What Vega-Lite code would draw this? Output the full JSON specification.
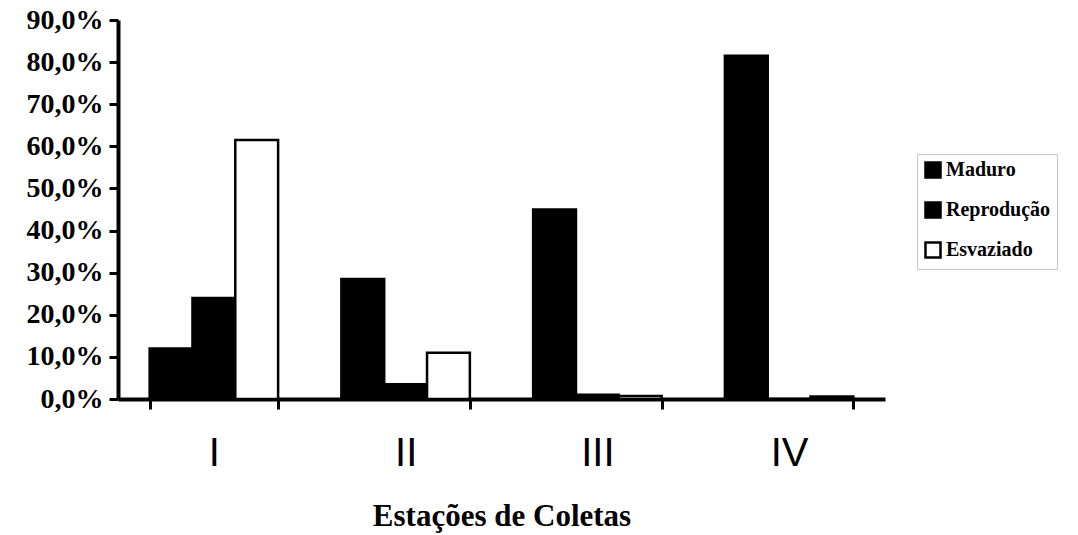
{
  "$schema": "https://vega.github.io/schema/vega-lite/v6.json",
  "width": 767,
  "height": 379,
  "autosize": {"type": "none"},
  "padding": {"left": 118, "top": 20, "right": 193, "bottom": 136},
  "background": "white",
  "config": {
    "locale": {"number": {"decimal": ",", "thousands": ".", "grouping": [3], "currency": ["R$", ""]}},
    "view": {"stroke": null}
  },
  "data": {
    "values": [
      {"estacao": "I", "serie": "Maduro", "valor": 0.12},
      {"estacao": "I", "serie": "Reprodução", "valor": 0.24},
      {"estacao": "I", "serie": "Esvaziado", "valor": 0.615},
      {"estacao": "II", "serie": "Maduro", "valor": 0.285},
      {"estacao": "II", "serie": "Reprodução", "valor": 0.035},
      {"estacao": "II", "serie": "Esvaziado", "valor": 0.11},
      {"estacao": "III", "serie": "Maduro", "valor": 0.45},
      {"estacao": "III", "serie": "Reprodução", "valor": 0.01},
      {"estacao": "III", "serie": "Esvaziado", "valor": 0.007},
      {"estacao": "IV", "serie": "Maduro", "valor": 0.815},
      {"estacao": "IV", "serie": "Reprodução", "valor": 0.0},
      {"estacao": "IV", "serie": "Esvaziado", "valor": 0.006}
    ]
  },
  "mark": {"type": "bar", "stroke": "black", "strokeWidth": 2.5},
  "encoding": {
    "x": {
      "field": "estacao",
      "type": "nominal",
      "sort": ["I", "II", "III", "IV"],
      "scale": {"paddingInner": 0.33, "paddingOuter": 0.165},
      "axis": {
        "title": "Estações de Coletas",
        "titleFont": "Liberation Serif",
        "titleFontSize": 31,
        "titleFontWeight": "bold",
        "titleColor": "black",
        "titlePadding": 28,
        "labelAngle": 0,
        "labelFont": "Liberation Sans",
        "labelFontSize": 40,
        "labelFontWeight": "normal",
        "labelColor": "black",
        "labelPadding": 24,
        "tickBand": "extent",
        "tickSize": 10,
        "tickWidth": 3,
        "tickColor": "black",
        "domainColor": "black",
        "domainWidth": 4,
        "grid": false
      }
    },
    "xOffset": {
      "field": "serie",
      "type": "nominal",
      "sort": ["Maduro", "Reprodução", "Esvaziado"],
      "scale": {"paddingInner": 0, "paddingOuter": 0}
    },
    "y": {
      "field": "valor",
      "type": "quantitative",
      "scale": {"domain": [0, 0.9], "nice": false},
      "axis": {
        "title": null,
        "format": ".1%",
        "values": [0, 0.1, 0.2, 0.3, 0.4, 0.5, 0.6, 0.7, 0.8, 0.9],
        "labelFont": "Liberation Serif",
        "labelFontSize": 28,
        "labelFontWeight": "bold",
        "labelColor": "black",
        "labelPadding": 6,
        "tickSize": 9,
        "tickWidth": 3,
        "tickColor": "black",
        "domainColor": "black",
        "domainWidth": 4,
        "grid": false
      }
    },
    "fill": {
      "field": "serie",
      "type": "nominal",
      "sort": ["Maduro", "Reprodução", "Esvaziado"],
      "scale": {"domain": ["Maduro", "Reprodução", "Esvaziado"], "range": ["black", "black", "white"]},
      "legend": {
        "title": null,
        "orient": "none",
        "legendX": 799,
        "legendY": 134,
        "symbolType": "square",
        "symbolSize": 225,
        "symbolStrokeColor": "black",
        "symbolStrokeWidth": 2.5,
        "labelFont": "Liberation Serif",
        "labelFontSize": 20,
        "labelFontWeight": "bold",
        "labelColor": "black",
        "labelOffset": 3,
        "rowPadding": 14,
        "padding": 6,
        "strokeColor": "#c8c8c8"
      }
    }
  }
}
